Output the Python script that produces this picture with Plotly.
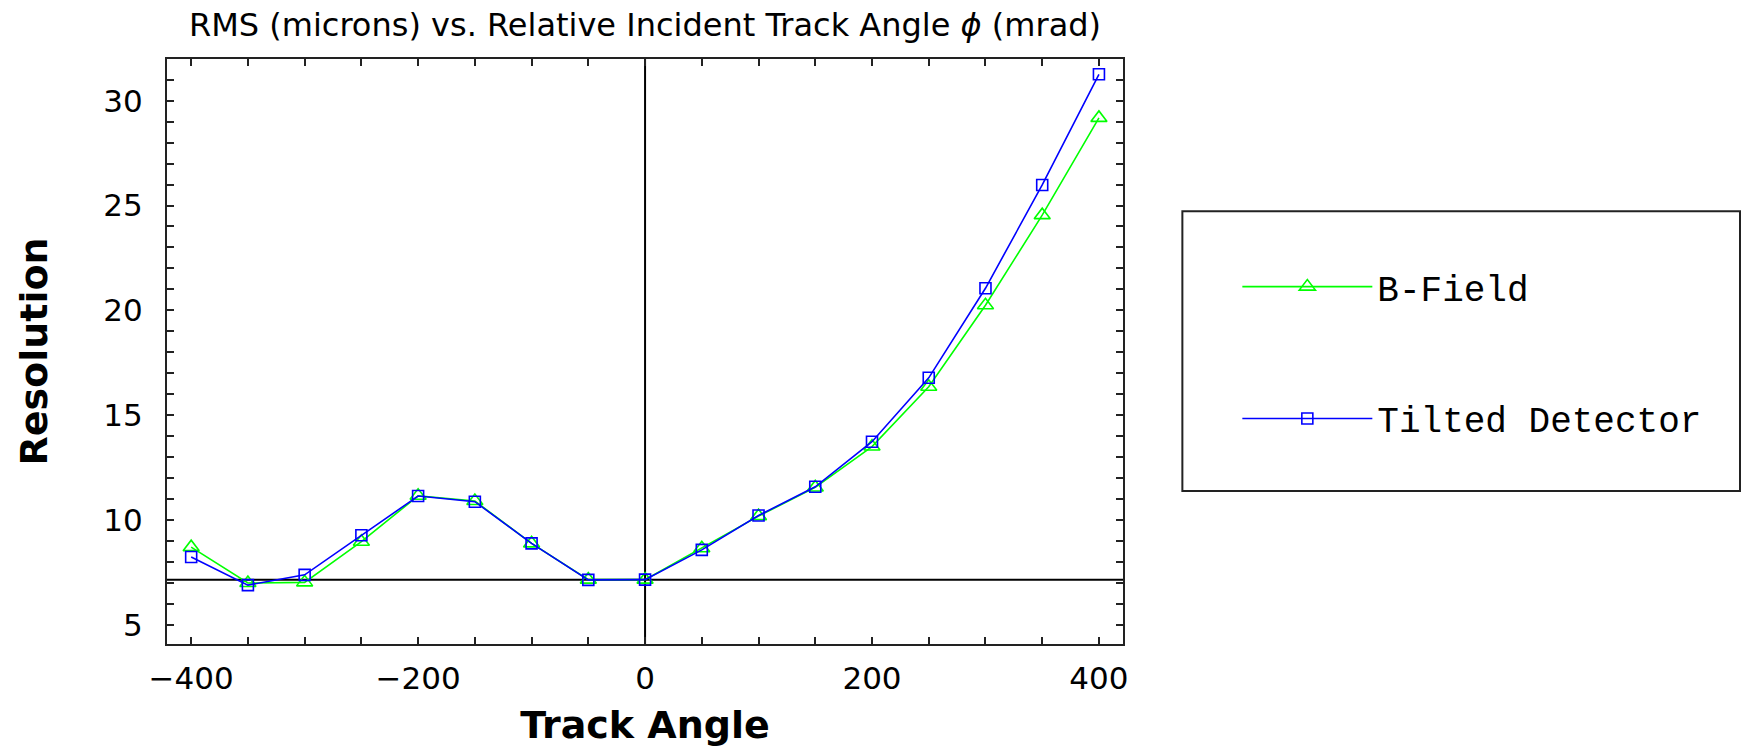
import plotly.graph_objects as go

# ---- data ----
track_angle = [-400, -350, -300, -250, -200, -150, -100, -50, 0, 50, 100, 150, 200, 250, 300, 350, 400]
b_field = [8.70, 6.99, 7.02, 8.96, 11.15, 10.90, 8.88, 7.15, 7.15, 8.65, 10.18, 11.55, 13.50, 16.35, 20.24, 24.54, 29.18]
tilted_detector = [8.23, 6.89, 7.38, 9.27, 11.14, 10.87, 8.88, 7.14, 7.15, 8.57, 10.21, 11.58, 13.73, 16.78, 21.05, 25.98, 31.26]

x_tick_vals = list(range(-400, 401, 50))
x_tick_labels = {-400: "\u2212400", -200: "\u2212200", 0: "0", 200: "200", 400: "400"}
y_tick_vals = list(range(5, 32))
y_tick_labels = {5: "5", 10: "10", 15: "15", 20: "20", 25: "25", 30: "30"}

x_range = [-421.3, 421.2]
y_range = [4.08, 31.99]
axes_origin = (0, 7.15)

GREEN = "#00ff00"
BLUE = "#0000ff"
TICK_FONT = dict(family="DejaVu Sans", size=31, color="black")
AXIS_TITLE_FONT = dict(family="DejaVu Sans", size=38, color="black", weight="bold")

fig = go.Figure()
fig.add_trace(go.Scatter(
    x=track_angle, y=b_field, name="B-Field", mode="lines+markers",
    line=dict(color=GREEN, width=1.6),
    marker=dict(symbol="triangle-up-open", size=14, color=GREEN, line=dict(width=1.6, color=GREEN)),
    legendgroup="a",
))
fig.add_trace(go.Scatter(
    x=track_angle, y=tilted_detector, name="Tilted Detector", mode="lines+markers",
    line=dict(color=BLUE, width=1.6),
    marker=dict(symbol="square-open", size=11, color=BLUE, line=dict(width=1.6, color=BLUE)),
    legendgroup="b",
))

# axes crossing lines (Mathematica-style axes inside the frame)
fig.add_hline(y=axes_origin[1], line=dict(color="black", width=2), layer="below")
fig.add_vline(x=axes_origin[0], line=dict(color="black", width=2), layer="below")

# legend frame
fig.add_shape(type="rect", xref="paper", yref="paper",
              x0=1.0621, x1=1.6454, y0=0.2614, y1=0.7398,
              line=dict(color="#222222", width=2), fillcolor="rgba(0,0,0,0)")

fig.update_layout(
    width=1743, height=751,
    margin=dict(l=167, r=620, t=59, b=101),
    paper_bgcolor="white", plot_bgcolor="white",
    title=dict(
        text="RMS (microns) vs. Relative Incident Track Angle <i>\u03d5</i> (mrad)",
        x=0.5, xref="paper", xanchor="center",
        y=0.967, yref="container", yanchor="middle",
        font=dict(family="DejaVu Sans", size=32, color="black"),
    ),
    showlegend=True,
    legend=dict(
        x=1.1196, xanchor="left", y=0.662, yanchor="top",
        font=dict(family="Liberation Mono", size=36, color="black"),
        itemwidth=130, tracegroupgap=82,
        bgcolor="rgba(0,0,0,0)", borderwidth=0,
        traceorder="grouped",
    ),
)

fig.update_xaxes(
    range=x_range, showgrid=False, zeroline=False,
    showline=True, linecolor="#222222", linewidth=2, mirror="ticks",
    ticks="inside", ticklen=7, tickwidth=2, tickcolor="#222222",
    tickvals=x_tick_vals, ticktext=[x_tick_labels.get(v, "") for v in x_tick_vals],
    tickfont=TICK_FONT, ticklabelstandoff=6,
    title=dict(text="Track Angle", font=AXIS_TITLE_FONT, standoff=16),
)
fig.update_yaxes(
    range=y_range, showgrid=False, zeroline=False,
    showline=True, linecolor="#222222", linewidth=2, mirror="ticks",
    ticks="inside", ticklen=7, tickwidth=2, tickcolor="#222222",
    tickvals=y_tick_vals, ticktext=[y_tick_labels.get(v, "") for v in y_tick_vals],
    tickfont=TICK_FONT, ticklabelstandoff=16,
    title=dict(text="Resolution", font=AXIS_TITLE_FONT, standoff=44),
)

fig.write_html("out.html")
